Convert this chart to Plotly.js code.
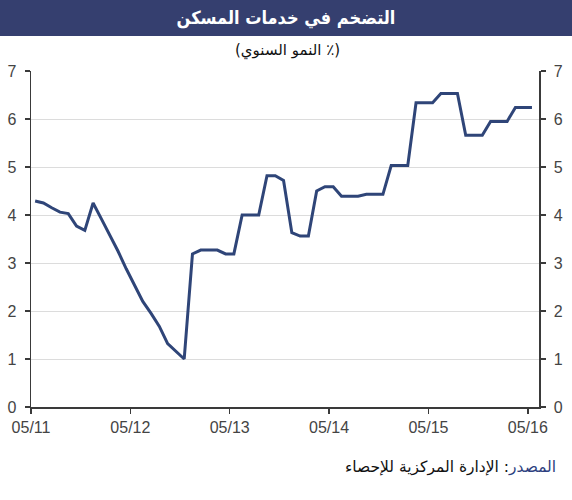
<!DOCTYPE html>
<html>
<head>
<meta charset="utf-8">
<script src="https://cdn.plot.ly/plotly-3.0.1.min.js"></script>
<style>
  html, body { margin: 0; padding: 0; background: #ffffff; }
  #chart { width: 572px; height: 500px; }
</style>
</head>
<body>
<div id="chart"></div>
<script>
// Monthly housing-services inflation (% y/y), May 2011 .. May 2016
const inflation = [
  4.29, 4.25, 4.15, 4.06, 4.03, 3.77, 3.68, 4.25, 3.92, 3.60,
  3.25, 2.88, 2.55, 2.20, 1.95, 1.68, 1.32, 1.15, 1.00, 3.19,
  3.27, 3.27, 3.27, 3.19, 3.19, 4.00, 4.00, 4.00, 4.82, 4.82,
  4.72, 3.63, 3.56, 3.56, 4.50, 4.59, 4.59, 4.39, 4.39, 4.39,
  4.43, 4.43, 4.43, 5.03, 5.03, 5.03, 6.34, 6.34, 6.34, 6.53,
  6.53, 6.53, 5.66, 5.66, 5.66, 5.95, 5.95, 5.95, 6.24, 6.24,
  6.24
];
const tickMonths = [0, 12, 24, 36, 48, 60];
const tickLabels = ['05/11', '05/12', '05/13', '05/14', '05/15', '05/16'];
const yTicks = [0, 1, 2, 3, 4, 5, 6, 7];

const titleText = 'التضخم في خدمات المسكن';
const subtitleText = '(النمو السنوي ٪)';
const sourceLabel = 'المصدر';
const sourceText = 'الإدارة المركزية للإحصاء';

// month index (mid-month) for each observation
const months = inflation.map((_, i) => i + 0.5);

const W = 572, H = 500;
const M = { l: 31, r: 33, t: 71, b: 93 };
const plotH = H - M.t - M.b;
const plotW = W - M.l - M.r;
const py = (pix) => (H - M.b - pix) / plotH;   // pixel y -> paper y
const px = (pix) => (pix - M.l) / plotW;       // pixel x -> paper x

const navy = '#353f6f';
const lineColor = '#2f4578';
const axisColor = '#3a3a3a';
const textColor = '#444444';

const traces = [
  {
    x: months, y: inflation, type: 'scatter', mode: 'lines',
    line: { color: lineColor, width: 3 },
    hoverinfo: 'skip', showlegend: false
  },
  {
    x: months, y: inflation, type: 'scatter', mode: 'lines', yaxis: 'y2',
    line: { color: 'rgba(0,0,0,0)', width: 0 },
    hoverinfo: 'skip', showlegend: false
  }
];

const layout = {
  width: W, height: H,
  margin: M,
  paper_bgcolor: '#ffffff', plot_bgcolor: '#ffffff',
  font: { family: 'Liberation Sans, Arial, DejaVu Sans, sans-serif', color: textColor, size: 16 },
  showlegend: false,
  title: {
    text: titleText,
    x: 0.5, xref: 'container', xanchor: 'center',
    y: 1 - 18 / H, yref: 'container', yanchor: 'middle',
    font: { family: 'DejaVu Sans Condensed, DejaVu Sans, sans-serif', size: 18, color: '#ffffff', weight: 'bold' }
  },
  xaxis: {
    range: [0, 61.35], fixedrange: true,
    tickmode: 'array', tickvals: tickMonths, ticktext: tickLabels,
    ticks: 'outside', ticklen: 5, tickwidth: 1.5, tickcolor: axisColor,
    showline: true, linecolor: axisColor, linewidth: 1.5,
    showgrid: false, zeroline: false,
    tickfont: { size: 16, color: textColor }
  },
  yaxis: {
    range: [0, 7], fixedrange: true,
    tickmode: 'array', tickvals: yTicks,
    ticks: 'outside', ticklen: 5, tickwidth: 1.5, tickcolor: axisColor,
    showline: true, linecolor: axisColor, linewidth: 1.5,
    showgrid: true, gridcolor: '#dcdcdc', gridwidth: 1,
    zeroline: false, ticklabelstandoff: 5,
    tickfont: { size: 16, color: textColor }
  },
  yaxis2: {
    range: [0, 7], fixedrange: true, overlaying: 'y', side: 'right',
    tickmode: 'array', tickvals: yTicks,
    ticks: 'outside', ticklen: 5, tickwidth: 1.5, tickcolor: axisColor,
    showline: true, linecolor: axisColor, linewidth: 1.5,
    showgrid: false, zeroline: false, ticklabelstandoff: 5,
    tickfont: { size: 16, color: textColor }
  },
  shapes: [
    {
      type: 'rect', xref: 'paper', yref: 'paper',
      x0: px(0), x1: px(W), y0: py(36), y1: py(0),
      fillcolor: navy, line: { width: 0 }, layer: 'below'
    }
  ],
  annotations: [
    {
      text: subtitleText, xref: 'paper', yref: 'paper',
      x: px(287), y: py(50), xanchor: 'center', yanchor: 'middle',
      showarrow: false,
      font: { family: 'DejaVu Sans, Liberation Sans, sans-serif', size: 15, color: '#111111' }
    },
    {
      text: '<span style="color:#2e3f80">' + sourceLabel + '</span>: ' + sourceText,
      xref: 'paper', yref: 'paper',
      x: px(558), y: py(467), xanchor: 'right', yanchor: 'middle',
      showarrow: false,
      font: { family: 'DejaVu Sans, Liberation Sans, sans-serif', size: 15.5, color: '#111111' }
    }
  ]
};

Plotly.newPlot('chart', traces, layout, { staticPlot: true, displayModeBar: false });
</script>
</body>
</html>
